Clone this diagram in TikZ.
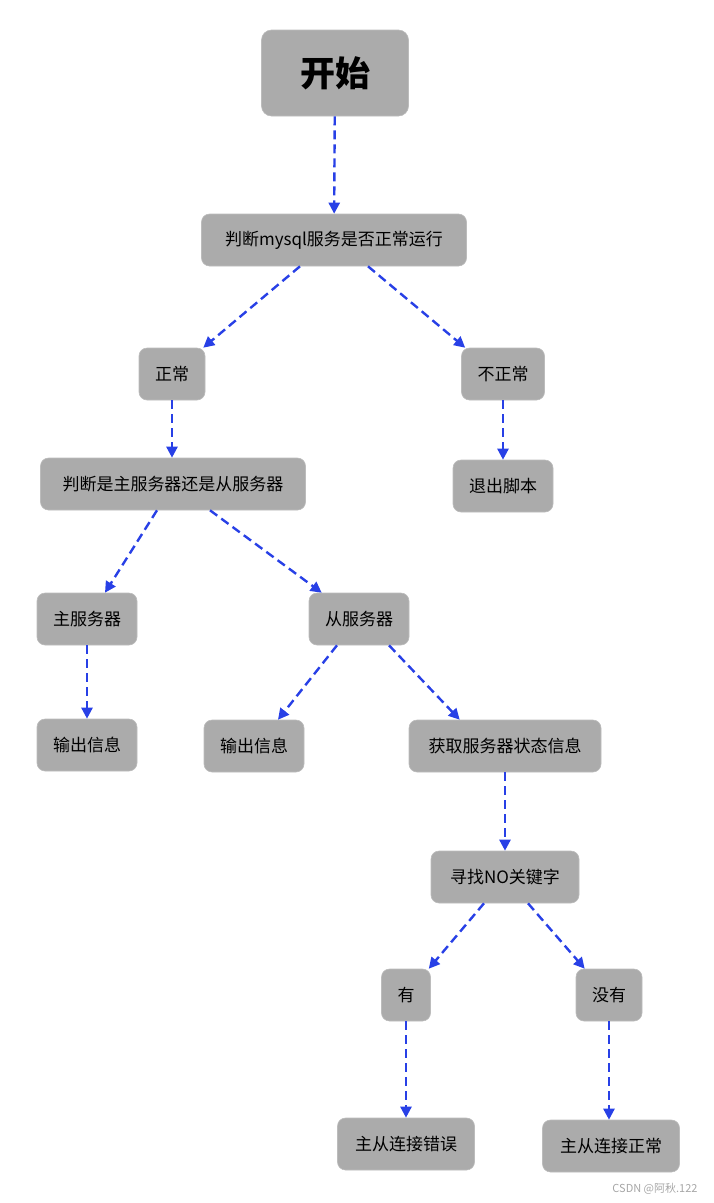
\documentclass[tikz,border=0pt]{standalone}
\usepackage{fontspec}
\setmainfont{Noto Sans CJK SC}
\usetikzlibrary{arrows.meta}
\definecolor{boxgray}{RGB}{171,171,171}
\definecolor{flowblue}{RGB}{40,64,230}
\tikzset{
  step-box/.style={
    rectangle,
    rounded corners=8pt,
    fill=boxgray,
    draw=boxgray!80!white,
    line width=0.6pt,
    minimum height=52pt,
    inner xsep=16pt,
    font=\fontsize{17}{20}\selectfont,
    text=black
  },
  start-box/.style={
    step-box,
    rounded corners=10pt,
    minimum width=147pt,
    minimum height=86pt,
    font=\fontsize{35}{40}\selectfont\bfseries
  },
  flow/.style={
    draw=flowblue,
    line width=2.4pt,
    dash pattern=on 9pt off 5pt,
    -{Triangle[length=11pt,width=11pt]}
  },
  mark-text/.style={font=\fontsize{11}{13}\selectfont, text=black!35}
}

\begin{document}
\begin{tikzpicture}[x=1pt,y=-1pt]
  \useasboundingbox (0,0) rectangle (713,1203);
  % Level 0-1
  \node[start-box] (start) at (335,73) {开始};
  \node[step-box, minimum width=265pt] (check) at (334,240) {判断mysql服务是否正常运行};
  % Level 2
  \node[step-box] (ok) at (172,374) {正常};
  \node[step-box] (fail) at (503,374) {不正常};
  % Level 3
  \node[step-box, minimum width=265pt] (role) at (173,484) {判断是主服务器还是从服务器};
  \node[step-box] (quit) at (503,486) {退出脚本};
  % Level 4
  \node[step-box] (master) at (87,619) {主服务器};
  \node[step-box] (slave) at (359,619) {从服务器};
  % Level 5
  \node[step-box] (msg-m) at (87,745) {输出信息};
  \node[step-box] (msg-s) at (254,746) {输出信息};
  \node[step-box, minimum width=192pt] (status) at (505,746) {获取服务器状态信息};
  % Level 6
  \node[step-box, minimum width=148pt] (search) at (505,877) {寻找NO关键字};
  % Level 7
  \node[step-box] (yes) at (406,995) {有};
  \node[step-box] (no) at (609,995) {没有};
  % Level 8
  \node[step-box, minimum width=137pt] (err) at (406,1144) {主从连接错误};
  \node[step-box, minimum width=137pt] (good) at (611,1146) {主从连接正常};

  % Arrows
  \draw[flow] (start) -- (check);
  \draw[flow] ([xshift=-34pt]check.south) -- ([xshift=-2pt]ok.north east);
  \draw[flow] ([xshift=34pt]check.south) -- ([xshift=4pt]fail.north west);
  \draw[flow] (ok) -- (ok |- role.north);
  \draw[flow] (fail) -- (quit);
  \draw[flow] ([xshift=-16pt]role.south) -- ([xshift=18pt]master.north);
  \draw[flow] ([xshift=37pt]role.south) -- ([xshift=13pt]slave.north west);
  \draw[flow] (master) -- (msg-m);
  \draw[flow] ([xshift=-22pt]slave.south) -- ([xshift=24pt]msg-s.north);
  \draw[flow] ([xshift=30pt]slave.south) -- ([xshift=51pt]status.north west);
  \draw[flow] (status) -- (search);
  \draw[flow] ([xshift=-21pt]search.south) -- ([xshift=-2pt]yes.north east);
  \draw[flow] ([xshift=23pt]search.south) -- ([xshift=9pt]no.north west);
  \draw[flow] (yes) -- (err);
  \draw[flow] (no.south) -- (no.south |- good.north);

  % Watermark
  \node[mark-text] (mark) at (655,1189) {CSDN @阿秋.122};
\end{tikzpicture}
\end{document}
